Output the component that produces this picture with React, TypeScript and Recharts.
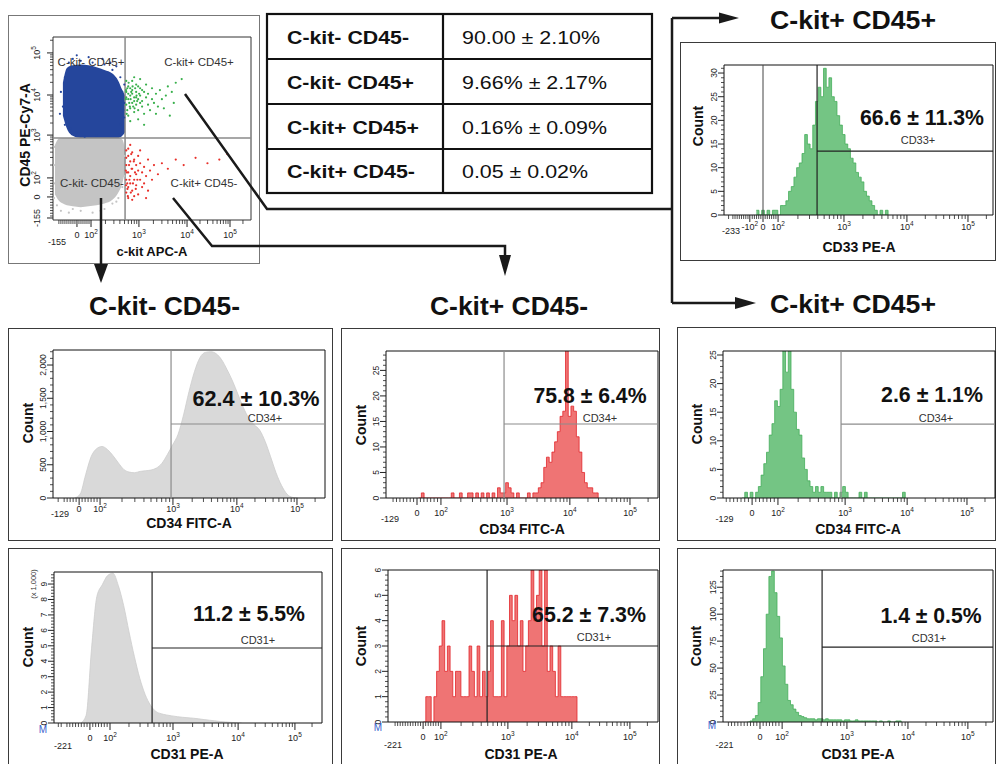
import React from "react";
import {
  ComposedChart,
  Area,
  Scatter,
  XAxis,
  YAxis,
  ReferenceLine,
  ReferenceArea,
} from "recharts";

const FONT = "'Liberation Sans', Arial, Helvetica, sans-serif";

// every plot uses display channels 0–100 across its width (the cytometer's biexponential scale)

// population summary
const popNames = ["C-kit- CD45-", "C-kit- CD45+", "C-kit+ CD45+", "C-kit+ CD45-"];
const popValues = ["90.00 ± 2.10%", "9.66% ± 2.17%", "0.16% ± 0.09%", "0.05 ± 0.02%"];

// dot plot c-kit APC-A (x) vs CD45 PE-Cy7-A (y): dense clouds as ranges, sparse events as points
const cloudX = [1, 3, 5, 7, 10, 14, 18, 22, 26, 30, 33, 35, 36.4];
const blueLow = [null, null, 57, 50, 46, 44.8, 44.8, 44.8, 44.8, 44.8, 44.8, 46, 48];
const blueHigh = [null, null, 75, 83, 84.5, 85, 84.5, 83.5, 82, 80, 76, 71, 68];
const grayLow = [14, 10.5, 9, 8, 7.5, 7, 7.5, 8, 9, 11, 15, 20, 27];
const grayHigh = [41, 44.5, 44.8, 44.8, 44.8, 44.8, 44.8, 44.8, 44.8, 44.8, 44.8, 44, 38];

const blueEvents = [
  [4, 70], [5, 62], [6, 78], [8, 86], [10, 88], [14, 87], [20, 86], [26, 85], [30, 82], [34, 78],
  [35, 70], [35.5, 60], [34, 52], [33, 47], [22, 46], [16, 45.5], [12, 48], [9, 50], [25, 88],
  [18, 89], [3.5, 58], [6, 52], [36, 64], [36, 56], [32, 84], [36, 74], [29, 86], [12, 90],
];
const grayEvents = [
  [0.5, 30], [1, 20], [0.8, 40], [2, 8], [4, 5], [8, 4], [14, 5], [20, 4], [26, 6], [30, 9],
  [33, 12], [35, 18], [36, 24], [36, 35], [35, 42], [0.5, 12], [3, 43], [10, 6], [24, 5], [32, 10],
];
const greenEvents = [
  [37, 70], [38, 66], [38, 73], [39, 61], [39, 68], [40, 64], [40, 71], [40, 76], [41, 59], [41, 67],
  [42, 63], [42, 70], [42, 74], [43, 60], [43, 66], [44, 68], [44, 72], [45, 62], [45, 65], [46, 70],
  [46, 58], [47, 67], [47, 74], [48, 63], [48, 69], [49, 60], [50, 66], [50, 72], [51, 64], [52, 69],
  [53, 62], [54, 71], [55, 66], [57, 68], [58, 73], [60, 70], [62, 75], [37, 63], [38, 57], [39, 54],
  [37, 76], [41, 78], [44, 77], [36.8, 66], [37.5, 60], [43, 55], [46, 52], [52, 58], [56, 61], [61, 64],
  [65, 77], [59, 57], [38, 69], [39, 72], [41, 65], [40, 69], [42, 67], [44, 64], [45, 71], [43, 73],
  [37, 67], [37.5, 72], [38.5, 64], [39.5, 70], [40.5, 62], [41.5, 72], [42.5, 65], [43.5, 69],
  [37.2, 58], [38.2, 75], [39.2, 66], [40.2, 73], [41.2, 61], [42.2, 68], [36.9, 71], [38.8, 62],
];
const redEvents = [
  [37, 38], [37, 30], [37, 22], [37, 15], [38, 35], [38, 26], [38, 18], [38, 12], [39, 32], [39, 24],
  [39, 20], [40, 37], [40, 28], [40, 16], [41, 33], [41, 22], [41, 13], [42, 30], [42, 25], [42, 19],
  [43, 35], [43, 27], [43, 14], [44, 22], [44, 31], [45, 18], [45, 26], [46, 29], [46, 20], [47, 24],
  [48, 33], [48, 16], [49, 27], [50, 22], [51, 30], [53, 25], [55, 31], [58, 28], [62, 33], [66, 30],
  [72, 34], [78, 31], [84, 33], [88, 36], [36.8, 27], [37.5, 20], [39.5, 36], [44, 38], [40, 11], [47, 12],
  [37, 34], [37.3, 26], [37.6, 17], [38.4, 30], [38.6, 22], [39.3, 15], [39.7, 28], [40.4, 20],
  [40.8, 32], [41.4, 26], [41.8, 17], [42.6, 22], [36.9, 19], [38, 39], [39, 41], [37.8, 13],
];
const dotXTicks = [
  { v: 2, label: "-155", low: true }, { v: 12.1, label: "0" }, { v: 19.2, label: "10^2" },
  { v: 43.4, label: "10^3" }, { v: 67.7, label: "10^4" }, { v: 89.4, label: "10^5" },
];
const dotYTicks = [
  { v: 1.1, label: "-155" }, { v: 12.6, label: "0" }, { v: 23, label: "10^2" },
  { v: 46.4, label: "10^3" }, { v: 68.3, label: "10^4" }, { v: 91.3, label: "10^5" },
];

// histograms: first channel, channel step, counts per bin
const cd33PosStart = 12;
const cd33PosCounts = [
  1, 0, 1, 0, 1, 0, 1, 1, 0, 2, 2, 3, 5, 6, 8, 10, 11, 13, 17, 15, 14, 19, 24, 27, 25, 31, 27, 29, 25,
  24, 21, 19, 17, 15, 14, 12, 11, 9, 8, 7, 5, 4, 3, 2, 1, 0, 1, 0, 1, 0,
];
const cd34NegStart = 8;
const cd34NegCounts = [
  0, 60, 350, 620, 740, 775, 730, 640, 530, 430, 390, 380, 400, 410, 420, 450, 520, 650, 800, 960,
  1250, 1600, 1900, 2110, 2190, 2200, 2170, 2080, 1930, 1760, 1560, 1360, 1200, 1100, 1020, 850, 620,
  380, 190, 60, 10, 0,
];
const cd34KitStart = 12;
const cd34KitCounts = [
  0, 1, 0, 0, 0, 0, 0, 0, 0, 0, 0, 0, 1, 0, 0, 1, 0, 0, 1, 1, 0, 1, 0, 1, 0, 1, 0, 1, 0, 2, 1, 1, 3, 2,
  1, 0, 1, 0, 0, 0, 1, 0, 1, 1, 2, 3, 6, 8, 7, 9, 11, 13, 16, 17, 29, 16, 18, 17, 12, 9, 5, 3, 2, 2, 1,
  1, 0,
];
const cd34DpStart = 7;
const cd34DpCounts = [
  0, 1, 0, 1, 0, 1, 2, 4, 6, 8, 11, 13, 17, 16, 19, 26, 22, 26, 19, 15, 12, 11, 7, 5, 3, 2, 1, 2, 1, 2,
  1, 1, 1, 0, 1, 0, 1, 2, 1, 0, 0, 0, 0, 1, 0, 1, 0, 0, 0, 0, 0, 0, 0, 0, 0, 0, 0, 0, 0, 1, 0,
];
const cd31NegStart = 10;
const cd31NegCounts = [
  0, 500, 4800, 8200, 8950, 9550, 9700, 8900, 7600, 5900, 4300, 2900, 1850, 1150, 750, 600, 520, 460,
  410, 370, 340, 310, 270, 220, 180, 140, 100, 70, 40, 20, 0,
];
const cd31KitStart = 13;
const cd31KitCounts = [
  0, 1, 1, 0, 1, 2, 3, 4, 2, 3, 2, 1, 2, 2, 1, 1, 1, 3, 2, 1, 3, 1, 2, 1, 2, 4, 1, 1, 1, 4, 1, 3, 5, 4,
  5, 3, 4, 2, 3, 4, 6, 4, 5, 6, 3, 6, 2, 3, 2, 1, 3, 1, 1, 1, 1, 1, 1, 0,
];
const cd31DpStart = 9;
const cd31DpCounts = [
  0, 1, 3, 6, 18, 42, 68, 100, 135, 140, 120, 98, 78, 52, 35, 20, 16, 12, 9, 6, 5, 4, 3, 3, 3, 2, 3, 3,
  2, 3, 2, 2, 2, 2, 2, 1, 2, 2, 1, 1, 2, 1, 1, 1, 1, 1, 1, 1, 0, 1, 0, 0, 1, 0, 0, 1, 1, 0,
];

// ---- layout / style ----
const YW = 48;
const MT = 6;
const MR = 6;
const XH = 50;
const GREEN = { fill: "#74c584", stroke: "#45ad5a" };
const RED = { fill: "#ef7474", stroke: "#e2262b" };
const GRAY = { fill: "#d9d9d9", stroke: "#cdcdcd" };
const DOT_BLUE = "#25469c";
const DOT_GRAY = "#c4c4c4";
const DOT_GREEN = "#39b04c";
const DOT_RED = "#e8302a";

const hist = (start: number, step: number, counts: number[]) =>
  counts.map((y, i) => ({ x: start + i * step, y }));
const toPts = (arr: number[][]) => arr.map(([x, y]) => ({ x, y }));

function TickLabel({ x, y, label, fs, rotate }: any) {
  const m = /^(-?10)\^(\d)$/.exec(label);
  return (
    <text
      x={x}
      y={y}
      textAnchor="middle"
      fontSize={fs}
      fill="#222"
      fontFamily={FONT}
      transform={rotate ? `rotate(-90 ${x} ${y})` : undefined}
    >
      {m ? (
        <>
          {m[1]}
          <tspan dy={-fs * 0.45} fontSize={fs * 0.72}>
            {m[2]}
          </tspan>
        </>
      ) : (
        label
      )}
    </text>
  );
}

// minor ticks of the biexponential axis: linear part below 10^2, log part above
function axisMinors(majors: any[]): number[] {
  const at = (l: string) => majors.find((t) => t.label === l).v;
  const zero = at("0");
  const decs = [at("10^2"), at("10^3"), at("10^4"), at("10^5")];
  const out: number[] = [];
  const s = (decs[0] - zero) / 7;
  for (let v = decs[0] - s; v > 1; v -= s) out.push(v);
  for (let i = 0; i < 3; i++)
    for (let m = 2; m <= 9; m++) out.push(decs[i] + (decs[i + 1] - decs[i]) * Math.log10(m));
  const w = decs[3] - decs[2];
  for (let m = 2; m <= 9; m++) {
    const v = decs[3] + w * Math.log10(m);
    if (v < 99) out.push(v);
  }
  return out
    .map((v) => +v.toFixed(3))
    .filter((v) => majors.every((t: any) => Math.abs(t.v - v) > 0.4));
}

function makeXTick(majors: any[], dy: number, lowDy: number, fs: number) {
  return (props: any) => {
    const { x, y, payload } = props;
    const m = majors.find((t) => Math.abs(t.v - payload.value) < 1e-6);
    if (!m) return <line x1={x} x2={x} y1={y} y2={y + 4} stroke="#222" strokeWidth={0.8} />;
    return (
      <g>
        {!m.low && <line x1={x} x2={x} y1={y} y2={y + 7} stroke="#222" strokeWidth={1} />}
        <TickLabel x={x} y={y + (m.low ? lowDy : dy)} label={m.label} fs={fs} />
      </g>
    );
  };
}

function makeYTick(isMajor: (v: number) => string | null, gap: number, fs: number) {
  return (props: any) => {
    const { x, y, payload } = props;
    const label = isMajor(payload.value);
    if (label == null) return <line x1={x - 3} x2={x} y1={y} y2={y} stroke="#222" strokeWidth={0.8} />;
    return (
      <g>
        <line x1={x - 6} x2={x} y1={y} y2={y} stroke="#222" strokeWidth={1} />
        <TickLabel x={x - gap} y={y} label={label} fs={fs} rotate />
      </g>
    );
  };
}

type Panel = {
  frame: number[];
  plot: number[];
  data: { x: number; y: number }[];
  curve: "monotone" | "stepAfter";
  color: { fill: string; stroke: string };
  yMax: number;
  yMajor: number;
  yMinor: number;
  yLabels: string[];
  xTicks: any[];
  tickDy: number;
  lowDy: number;
  gateX: number;
  gateY: number;
  gateColor: string;
  extraX?: number;
  pct: string;
  pctAt: number[];
  gate: string;
  gateAt: number[];
  xTitle: string;
  xTitleAt: number[];
  countAt: number[];
  mAt?: number[];
  kAt?: number[];
};

const panels: Panel[] = [
  {
    frame: [680, 42, 316, 219],
    plot: [724, 65, 269, 150],
    data: hist(cd33PosStart, 1, cd33PosCounts),
    curve: "stepAfter",
    color: GREEN,
    yMax: 31.7, yMajor: 5, yMinor: 1,
    yLabels: ["0", "5", "10", "15", "20", "25", "30"],
    xTicks: [
      { v: 2.6, label: "-233", low: true }, { v: 9.6, label: "-10^2" }, { v: 14.5, label: "0" },
      { v: 20.1, label: "10^2" }, { v: 44.6, label: "10^3" }, { v: 68, label: "10^4" }, { v: 90.7, label: "10^5" },
    ],
    tickDy: 15, lowDy: 19,
    gateX: 34.6, gateY: 13.5, gateColor: "#222", extraX: 14.5,
    pct: "66.6 ± 11.3%", pctAt: [922, 125, 124],
    gate: "CD33+", gateAt: [918, 144],
    xTitle: "CD33 PE-A", xTitleAt: [859, 252],
    countAt: [698, 126],
  },
  {
    frame: [8, 328, 325, 213],
    plot: [53, 350, 272, 148],
    data: hist(cd34NegStart, 2, cd34NegCounts),
    curve: "monotone",
    color: GRAY,
    yMax: 2226, yMajor: 500, yMinor: 100,
    yLabels: ["0", "500", "1,000", "1,500", "2,000"],
    xTicks: [
      { v: 2.6, label: "-129", low: true }, { v: 9.6, label: "0" }, { v: 17.3, label: "10^2" },
      { v: 44.1, label: "10^3" }, { v: 67.6, label: "10^4" }, { v: 89.7, label: "10^5" },
    ],
    tickDy: 14, lowDy: 19,
    gateX: 43.4, gateY: 1113, gateColor: "#8c8c8c",
    pct: "62.4 ± 10.3%", pctAt: [256, 406, 127],
    gate: "CD34+", gateAt: [265, 422],
    xTitle: "CD34 FITC-A", xTitleAt: [189, 528],
    countAt: [28, 423],
  },
  {
    frame: [341, 328, 319, 213],
    plot: [386, 351, 272, 147],
    data: hist(cd34KitStart, 1, cd34KitCounts),
    curve: "stepAfter",
    color: RED,
    yMax: 28.8, yMajor: 5, yMinor: 1,
    yLabels: ["0", "5", "10", "15", "20", "25"],
    xTicks: [
      { v: 1.5, label: "-129", low: true }, { v: 11.4, label: "0" }, { v: 20.2, label: "10^2" },
      { v: 44.5, label: "10^3" }, { v: 67.6, label: "10^4" }, { v: 89.7, label: "10^5" },
    ],
    tickDy: 18, lowDy: 24,
    gateX: 43.4, gateY: 14.5, gateColor: "#8c8c8c",
    pct: "75.8 ± 6.4%", pctAt: [590, 403, 113],
    gate: "CD34+", gateAt: [600, 422],
    xTitle: "CD34 FITC-A", xTitleAt: [522, 534],
    countAt: [361, 425],
  },
  {
    frame: [677, 327, 319, 214],
    plot: [723, 351, 272, 147],
    data: hist(cd34DpStart, 1, cd34DpCounts),
    curve: "stepAfter",
    color: GREEN,
    yMax: 25.7, yMajor: 5, yMinor: 1,
    yLabels: ["0", "5", "10", "15", "20", "25"],
    xTicks: [
      { v: 0.6, label: "-129", low: true }, { v: 10.7, label: "0" }, { v: 20.2, label: "10^2" },
      { v: 44.9, label: "10^3" }, { v: 67.7, label: "10^4" }, { v: 89.7, label: "10^5" },
    ],
    tickDy: 18, lowDy: 24,
    gateX: 43.4, gateY: 12.9, gateColor: "#8c8c8c",
    pct: "2.6 ± 1.1%", pctAt: [932, 402, 102],
    gate: "CD34+", gateAt: [936, 422],
    xTitle: "CD34 FITC-A", xTitleAt: [858, 534],
    countAt: [697, 424],
  },
  {
    frame: [8, 548, 325, 225],
    plot: [54, 572, 268, 151],
    data: hist(cd31NegStart, 2, cd31NegCounts),
    curve: "monotone",
    color: GRAY,
    yMax: 9780, yMajor: 1000, yMinor: 200,
    yLabels: ["0", "1", "2", "3", "4", "5", "6", "7", "8", "9"],
    xTicks: [
      { v: 3.4, label: "-221", low: true }, { v: 13.4, label: "0" }, { v: 20.9, label: "10^2" },
      { v: 44.4, label: "10^3" }, { v: 68.7, label: "10^4" }, { v: 89.9, label: "10^5" },
    ],
    tickDy: 18, lowDy: 26,
    gateX: 36.6, gateY: 4857, gateColor: "#222",
    pct: "11.2 ± 5.5%", pctAt: [249, 621, 112],
    gate: "CD31+", gateAt: [258, 644],
    xTitle: "CD31 PE-A", xTitleAt: [187, 759],
    countAt: [28, 647],
    mAt: [43, 733],
    kAt: [33, 584],
  },
  {
    frame: [341, 548, 319, 225],
    plot: [388, 570, 270, 152],
    data: hist(cd31KitStart, 1, cd31KitCounts),
    curve: "stepAfter",
    color: RED,
    yMax: 6, yMajor: 1, yMinor: 0.2,
    yLabels: ["0", "1", "2", "3", "4", "5", "6"],
    xTicks: [
      { v: 1.9, label: "-221", low: true }, { v: 13, label: "0" }, { v: 19.6, label: "10^2" },
      { v: 44.4, label: "10^3" }, { v: 68.1, label: "10^4" }, { v: 89.6, label: "10^5" },
    ],
    tickDy: 18, lowDy: 26,
    gateX: 36.7, gateY: 3, gateColor: "#222",
    pct: "65.2 ± 7.3%", pctAt: [589, 622, 114],
    gate: "CD31+", gateAt: [594, 641],
    xTitle: "CD31 PE-A", xTitleAt: [521, 759],
    countAt: [361, 646],
    mAt: [378, 731],
  },
  {
    frame: [677, 548, 319, 225],
    plot: [723, 570, 270, 152],
    data: hist(cd31DpStart, 1, cd31DpCounts),
    curve: "stepAfter",
    color: GREEN,
    yMax: 141, yMajor: 25, yMinor: 5,
    yLabels: ["0", "25", "50", "75", "100", "125"],
    xTicks: [
      { v: 0.6, label: "-221", low: true }, { v: 13.7, label: "0" }, { v: 21.9, label: "10^2" },
      { v: 45.9, label: "10^3" }, { v: 68.5, label: "10^4" }, { v: 90.7, label: "10^5" },
    ],
    tickDy: 18, lowDy: 26,
    gateX: 36.7, gateY: 69.4, gateColor: "#222",
    pct: "1.4 ± 0.5%", pctAt: [931, 623, 101],
    gate: "CD31+", gateAt: [929, 642],
    xTitle: "CD31 PE-A", xTitleAt: [858, 759],
    countAt: [696, 646],
    mAt: [712, 729],
  },
];

// texts drawn over a chart, in page pixels (kept above the series layers)
function TextLayer({ left, top, width, height, children }: any) {
  return (
    <svg
      width={width}
      height={height}
      style={{ position: "absolute", left, top, pointerEvents: "none", overflow: "visible" }}
      fontFamily={FONT}
    >
      <g transform={`translate(${-left} ${-top})`}>{children}</g>
    </svg>
  );
}

function HistPanel({ p }: { p: Panel }) {
  const [l, t, w, h] = p.plot;
  const cl = l - YW;
  const ct = t - MT;
  const cw = w + YW + MR;
  const ch = h + MT + XH;
  const xTickVals = [...p.xTicks.map((k) => k.v), ...axisMinors(p.xTicks)].sort((a, b) => a - b);
  const yTickVals: number[] = [];
  for (let i = 0; i * p.yMinor <= p.yMax + 1e-9; i++) yTickVals.push(+(i * p.yMinor).toFixed(4));
  const yMajorLabel = (v: number) => {
    const k = Math.round(v / p.yMajor);
    return Math.abs(v - k * p.yMajor) < 1e-6 ? p.yLabels[k] ?? null : null;
  };
  const cx = p.countAt[0] + 5;

  return (
    <>
      <div
        style={{
          position: "absolute",
          left: p.frame[0],
          top: p.frame[1],
          width: p.frame[2],
          height: p.frame[3],
          border: "1px solid #3a3a3a",
          boxSizing: "border-box",
        }}
      />
      <div style={{ position: "absolute", left: cl, top: ct }}>
        <ComposedChart width={cw} height={ch} data={p.data} margin={{ top: MT, right: MR, bottom: 0, left: 0 }}>
          <XAxis
            type="number"
            dataKey="x"
            domain={[0, 100]}
            allowDataOverflow
            ticks={xTickVals}
            interval={0}
            tick={makeXTick(p.xTicks, p.tickDy, p.lowDy, 9)}
            tickLine={false}
            axisLine={false}
            tickSize={0}
            tickMargin={0}
            height={XH}
          />
          <YAxis
            type="number"
            domain={[0, p.yMax]}
            allowDataOverflow
            ticks={yTickVals}
            interval={0}
            tick={makeYTick(yMajorLabel, 7, 8.5)}
            tickLine={false}
            axisLine={false}
            tickSize={0}
            tickMargin={0}
            width={YW}
          />
          <Area
            type={p.curve}
            dataKey="y"
            fill={p.color.fill}
            fillOpacity={1}
            stroke={p.color.stroke}
            strokeWidth={0.8}
            dot={false}
            activeDot={false}
            isAnimationActive={false}
          />
          {p.extraX != null && <ReferenceLine x={p.extraX} stroke="#444" strokeWidth={1} />}
          <ReferenceLine x={p.gateX} stroke={p.gateColor} strokeWidth={1.2} />
          <ReferenceLine
            segment={[
              { x: p.gateX, y: p.gateY },
              { x: 100, y: p.gateY },
            ]}
            stroke={p.gateColor}
            strokeWidth={1.2}
          />
          <ReferenceArea x1={0} x2={100} y1={0} y2={p.yMax} fill="none" stroke="#111" strokeWidth={1} />
        </ComposedChart>
      </div>
      <TextLayer left={cl} top={ct} width={cw} height={ch}>
        <text
          x={p.pctAt[0]}
          y={p.pctAt[1]}
          textAnchor="middle"
          fontSize={22}
          fontWeight="bold"
          fill="#111"
          textLength={p.pctAt[2]}
          lengthAdjust="spacingAndGlyphs"
        >
          {p.pct}
        </text>
        <text x={p.gateAt[0]} y={p.gateAt[1]} textAnchor="middle" fontSize={11} fill="#333">
          {p.gate}
        </text>
        <text x={p.xTitleAt[0]} y={p.xTitleAt[1]} textAnchor="middle" fontSize={14} fontWeight="bold" fill="#111">
          {p.xTitle}
        </text>
        <text
          x={cx}
          y={p.countAt[1]}
          textAnchor="middle"
          fontSize={14}
          fontWeight="bold"
          fill="#111"
          transform={`rotate(-90 ${cx} ${p.countAt[1]})`}
        >
          Count
        </text>
        {p.mAt && (
          <text x={p.mAt[0]} y={p.mAt[1]} textAnchor="middle" fontSize={10} fill="#3a5fcd">
            M
          </text>
        )}
        {p.kAt && (
          <text
            x={p.kAt[0] + 3}
            y={p.kAt[1]}
            textAnchor="middle"
            fontSize={7.5}
            fill="#333"
            transform={`rotate(-90 ${p.kAt[0] + 3} ${p.kAt[1]})`}
          >
            (x 1,000)
          </text>
        )}
      </TextLayer>
    </>
  );
}

const quadNames = ["C-kit- CD45+", "C-kit+ CD45+", "C-kit- CD45-", "C-kit+ CD45-"];
const quadAt = [
  [91, 66],
  [199, 66],
  [92, 187],
  [204, 187],
];

function DotPlot() {
  const l = 53;
  const t = 37;
  const w = 198;
  const h = 183;
  const cl = l - YW;
  const ct = t - MT;
  const cw = w + YW + MR;
  const ch = h + MT + XH;
  const cloudData = cloudX.map((x, i) => ({
    x,
    blue: blueLow[i] == null ? null : [blueLow[i], blueHigh[i]],
    gray: [grayLow[i], grayHigh[i]],
  }));
  const xTickVals = [...dotXTicks.map((k) => k.v), ...axisMinors(dotXTicks)].sort((a, b) => a - b);
  const yTickVals = [...dotYTicks.map((k) => k.v), ...axisMinors(dotYTicks)].sort((a, b) => a - b);
  const yLabel = (v: number) => {
    const m = dotYTicks.find((k) => Math.abs(k.v - v) < 1e-6);
    return m ? m.label : null;
  };
  const dot = (color: string) => (props: any) => <circle cx={props.cx} cy={props.cy} r={1.1} fill={color} />;

  return (
    <>
      <div
        style={{
          position: "absolute",
          left: 8,
          top: 15,
          width: 252,
          height: 249,
          border: "1px solid #777",
          boxSizing: "border-box",
        }}
      />
      <div style={{ position: "absolute", left: cl, top: ct }}>
        <ComposedChart width={cw} height={ch} data={cloudData} margin={{ top: MT, right: MR, bottom: 0, left: 0 }}>
          <XAxis
            type="number"
            dataKey="x"
            domain={[0, 100]}
            allowDataOverflow
            ticks={xTickVals}
            interval={0}
            tick={makeXTick(dotXTicks, 18, 25, 9)}
            tickLine={false}
            axisLine={false}
            tickSize={0}
            tickMargin={0}
            height={XH}
          />
          <YAxis
            type="number"
            domain={[0, 100]}
            allowDataOverflow
            ticks={yTickVals}
            interval={0}
            tick={makeYTick(yLabel, 13, 9)}
            tickLine={false}
            axisLine={false}
            tickSize={0}
            tickMargin={0}
            width={YW}
          />
          <Area type="monotone" dataKey="gray" fill={DOT_GRAY} fillOpacity={1} stroke="none" dot={false} activeDot={false} isAnimationActive={false} />
          <Area type="monotone" dataKey="blue" fill={DOT_BLUE} fillOpacity={1} stroke="none" dot={false} activeDot={false} isAnimationActive={false} />
          <Scatter data={toPts(grayEvents)} dataKey="y" shape={dot(DOT_GRAY)} isAnimationActive={false} />
          <Scatter data={toPts(blueEvents)} dataKey="y" shape={dot(DOT_BLUE)} isAnimationActive={false} />
          <Scatter data={toPts(greenEvents)} dataKey="y" shape={dot(DOT_GREEN)} isAnimationActive={false} />
          <Scatter data={toPts(redEvents)} dataKey="y" shape={dot(DOT_RED)} isAnimationActive={false} />
          <ReferenceLine x={36.4} stroke="#8a8a8a" strokeWidth={1.5} />
          <ReferenceLine y={44.8} stroke="#8a8a8a" strokeWidth={1.5} />
          <ReferenceArea x1={0} x2={100} y1={0} y2={100} fill="none" stroke="#333" strokeWidth={1} />
        </ComposedChart>
      </div>
      <TextLayer left={cl} top={ct} width={cw} height={ch}>
        {quadNames.map((s, i) => (
          <text key={s} x={quadAt[i][0]} y={quadAt[i][1]} textAnchor="middle" fontSize={11.5} fill="#333">
            {s}
          </text>
        ))}
        <text x={152} y={256} textAnchor="middle" fontSize={13} fontWeight="bold" fill="#111">
          c-kit APC-A
        </text>
        <text
          x={30}
          y={135}
          textAnchor="middle"
          fontSize={14}
          fontWeight="bold"
          fill="#111"
          transform="rotate(-90 30 135)"
        >
          CD45 PE-Cy7-A
        </text>
      </TextLayer>
    </>
  );
}

const popNameLen = [122, 127, 132, 128];
const popValueLen = [138, 145, 145, 126];
const rowBase = [44, 89, 134, 178];

function Overlay() {
  const lineProps = { stroke: "#1a1a1a", strokeWidth: 2.5, fill: "none" };
  const title = (s: string, x: number, y: number, len: number) => (
    <text x={x} y={y} fontSize={25} fontWeight="bold" fill="#111" textLength={len} lengthAdjust="spacingAndGlyphs">
      {s}
    </text>
  );
  return (
    <svg
      width={996}
      height={764}
      style={{ position: "absolute", left: 0, top: 0, pointerEvents: "none" }}
      fontFamily={FONT}
    >
      {/* summary table */}
      <rect x={267} y={14} width={385} height={179} fill="#fff" stroke="#111" strokeWidth={2.2} />
      <line x1={443} x2={443} y1={14} y2={193} stroke="#111" strokeWidth={2.2} />
      {[59, 104, 149].map((y) => (
        <line key={y} x1={267} x2={652} y1={y} y2={y} stroke="#111" strokeWidth={2.2} />
      ))}
      {popNames.map((s, i) => (
        <text key={s} x={287} y={rowBase[i]} fontSize={19} fontWeight="bold" fill="#111" textLength={popNameLen[i]} lengthAdjust="spacingAndGlyphs">
          {s}
        </text>
      ))}
      {popValues.map((s, i) => (
        <text key={s} x={462} y={rowBase[i]} fontSize={19} fill="#111" textLength={popValueLen[i]} lengthAdjust="spacingAndGlyphs">
          {s}
        </text>
      ))}

      {/* gating arrows */}
      <path d="M185,94 L267,209 L672,209" {...lineProps} />
      <path d="M672,18 L672,303" {...lineProps} />
      <path d="M672,18 L722,18" {...lineProps} />
      <polygon points="739,18 719,12.5 719,23.5" fill="#1a1a1a" />
      <path d="M672,303 L738,303" {...lineProps} />
      <polygon points="756,303 735,297 735,309" fill="#1a1a1a" />
      <path d="M173,198 L212,246 L505,246 L505,258" {...lineProps} />
      <polygon points="505,276 499,255 511,255" fill="#1a1a1a" />
      <path d="M101,198 L101,267" {...lineProps} />
      <polygon points="101,283 94,264 108,264" fill="#1a1a1a" />

      {title("C-kit+ CD45+", 770, 29, 166)}
      {title("C-kit- CD45-", 89, 315, 151)}
      {title("C-kit+ CD45-", 430, 315, 158)}
      {title("C-kit+ CD45+", 770, 313, 166)}
    </svg>
  );
}

export default function App() {
  return (
    <div
      style={{
        position: "absolute",
        left: 0,
        top: 0,
        width: 996,
        height: 764,
        overflow: "hidden",
        background: "#fff",
        fontFamily: FONT,
      }}
    >
      <DotPlot />
      {panels.map((p, i) => (
        <HistPanel key={i} p={p} />
      ))}
      <Overlay />
    </div>
  );
}
